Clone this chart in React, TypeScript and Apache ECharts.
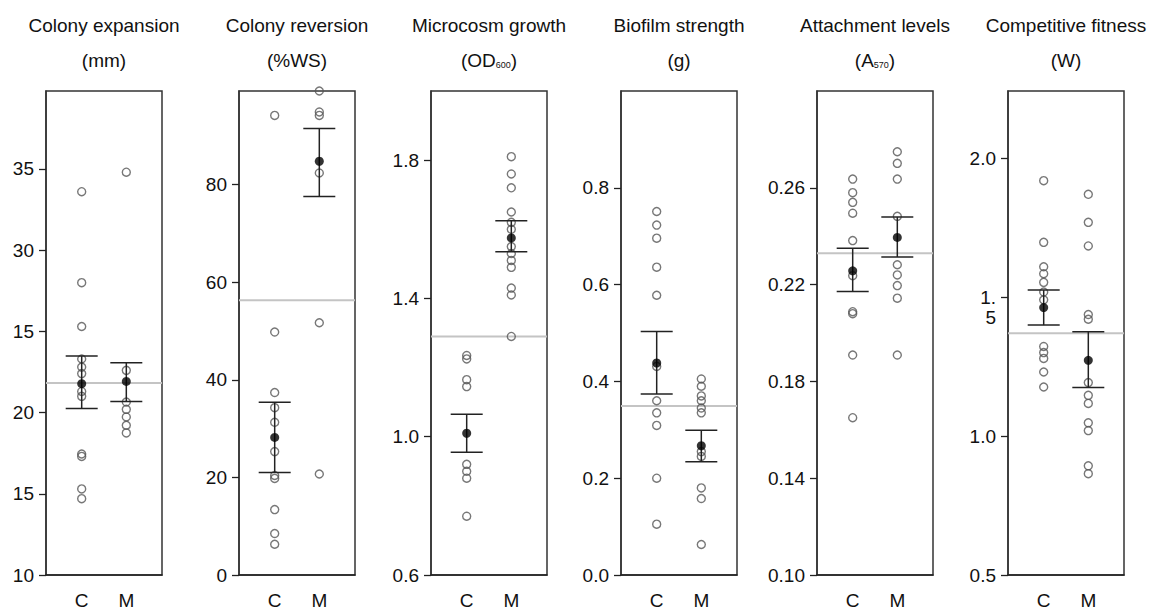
import React, { useEffect, useRef } from "react";
import * as echarts from "echarts";

const FONT = '"Liberation Sans", Arial, sans-serif';
const categories = ["C", "M"];

// Panel 1: Colony expansion (mm)
const expansionC = [33.6, 28.0, 25.3, 23.3, 22.8, 22.4, 21.3, 21.0, 17.45, 17.3, 15.3, 14.7];
const expansionM = [34.8, 22.6, 20.65, 20.2, 19.73, 19.22, 18.75];
const expansionMean = [21.78, 21.92];
const expansionUpper = [23.48, 23.07];
const expansionLower = [20.25, 20.68];
const expansionRef = 21.82;
const expansionTicks = [10, 15, 20, 25, 30, 35];
const expansionTickLabels = ["10", "15", "20", "15", "30", "35"];

// Panel 2: Colony reversion (%WS)
const reversionC = [94.2, 49.8, 37.4, 34.3, 31.3, 25.3, 20.4, 19.8, 13.4, 8.5, 6.3];
const reversionM = [99.2, 94.9, 94.2, 82.4, 51.7, 20.7];
const reversionMean = [28.2, 84.8];
const reversionUpper = [35.4, 91.5];
const reversionLower = [21.0, 77.6];
const reversionRef = 56.3;
const reversionTicks = [0, 20, 40, 60, 80];
const reversionTickLabels = ["0", "20", "40", "60", "80"];

// Panel 3: Microcosm growth (OD600)
const growthC = [1.235, 1.225, 1.165, 1.145, 0.92, 0.9, 0.88, 0.77];
const growthM = [1.81, 1.76, 1.72, 1.65, 1.62, 1.6, 1.55, 1.53, 1.51, 1.49, 1.43, 1.41, 1.29];
const growthMean = [1.01, 1.575];
const growthUpper = [1.065, 1.625];
const growthLower = [0.955, 1.535];
const growthRef = 1.29;
const growthTicks = [0.6, 1.0, 1.4, 1.8];
const growthTickLabels = ["0.6", "1.0", "1.4", "1.8"];

// Panel 4: Biofilm strength (g)
const strengthC = [0.751, 0.723, 0.696, 0.636, 0.578, 0.431, 0.36, 0.335, 0.309, 0.2, 0.105];
const strengthM = [0.405, 0.39, 0.37, 0.36, 0.345, 0.335, 0.255, 0.245, 0.18, 0.158, 0.063];
const strengthMean = [0.438, 0.267];
const strengthUpper = [0.503, 0.299];
const strengthLower = [0.374, 0.234];
const strengthRef = 0.349;
const strengthTicks = [0, 0.2, 0.4, 0.6, 0.8];
const strengthTickLabels = ["0.0", "0.2", "0.4", "0.6", "0.8"];

// Panel 5: Attachment levels (A570)
const attachC = [0.2636, 0.258, 0.254, 0.2495, 0.2382, 0.2237, 0.2088, 0.208, 0.1909, 0.165];
const attachM = [0.2749, 0.2701, 0.2636, 0.2482, 0.2282, 0.224, 0.2196, 0.2144, 0.1909];
const attachMean = [0.2257, 0.2395];
const attachUpper = [0.235, 0.2479];
const attachLower = [0.2172, 0.2314];
const attachRef = 0.233;
const attachTicks = [0.1, 0.14, 0.18, 0.22, 0.26];
const attachTickLabels = ["0.10", "0.14", "0.18", "0.22", "0.26"];

// Panel 6: Competitive fitness (W)
const fitnessC = [1.92, 1.698, 1.61, 1.585, 1.554, 1.519, 1.491, 1.323, 1.301, 1.28, 1.231, 1.177];
const fitnessM = [1.871, 1.77, 1.685, 1.438, 1.421, 1.193, 1.147, 1.118, 1.048, 1.02, 0.893, 0.865];
const fitnessMean = [1.463, 1.273];
const fitnessUpper = [1.526, 1.376];
const fitnessLower = [1.4, 1.175];
const fitnessRef = 1.371;
const fitnessTicks = [0.5, 1.0, 1.5, 2.0];
const fitnessTickLabels = ["0.5", "1.0", " \n1.\n5", "2.0"];

const panels = [
  { t1: "Colony expansion", t2: "(mm)", c: expansionC, m: expansionM, mean: expansionMean, up: expansionUpper, lo: expansionLower, ref: expansionRef, ticks: expansionTicks, labels: expansionTickLabels, min: 10, max: 39.8 },
  { t1: "Colony reversion", t2: "(%WS)", c: reversionC, m: reversionM, mean: reversionMean, up: reversionUpper, lo: reversionLower, ref: reversionRef, ticks: reversionTicks, labels: reversionTickLabels, min: 0, max: 99.2 },
  { t1: "Microcosm growth", t2: "(OD{sub|600})", c: growthC, m: growthM, mean: growthMean, up: growthUpper, lo: growthLower, ref: growthRef, ticks: growthTicks, labels: growthTickLabels, min: 0.6, max: 2.0 },
  { t1: "Biofilm strength", t2: "(g)", c: strengthC, m: strengthM, mean: strengthMean, up: strengthUpper, lo: strengthLower, ref: strengthRef, ticks: strengthTicks, labels: strengthTickLabels, min: 0, max: 1.0 },
  { t1: "Attachment levels", t2: "(A{sub|570})", c: attachC, m: attachM, mean: attachMean, up: attachUpper, lo: attachLower, ref: attachRef, ticks: attachTicks, labels: attachTickLabels, min: 0.1, max: 0.3 },
  { t1: "Competitive fitness", t2: "(W)", c: fitnessC, m: fitnessM, mean: fitnessMean, up: fitnessUpper, lo: fitnessLower, ref: fitnessRef, ticks: fitnessTicks, labels: fitnessTickLabels, min: 0.5, max: 2.243 },
];

const gridLefts = [46, 239, 431, 621, 817, 1008];
const GRID_W = 116;
const GRID_TOP = 91;
const GRID_H = 484;

function buildOption() {
  const grid: any[] = [];
  const xAxis: any[] = [];
  const yAxis: any[] = [];
  const series: any[] = [];
  const graphic: any[] = [];

  panels.forEach((p, i) => {
    const left = gridLefts[i];
    grid.push({
      left, top: GRID_TOP, width: GRID_W, height: GRID_H,
      show: true, borderColor: "#333", borderWidth: 1.5, backgroundColor: "transparent",
    });
    xAxis.push({
      type: "value", gridIndex: i, min: 0.2, max: 2.8,
      axisLine: { show: true, onZero: false, lineStyle: { color: "#222", width: 1.5 } },
      axisTick: { show: false },
      splitLine: { show: false },
      axisLabel: {
        customValues: [1, 2],
        formatter: (v: number) => categories[Math.round(v) - 1] ?? "",
        fontFamily: FONT, fontSize: 19, color: "#111", margin: 16,
      },
    });
    yAxis.push({
      type: "value", gridIndex: i, min: p.min, max: p.max,
      axisLine: { show: true, onZero: false, lineStyle: { color: "#333", width: 1.5 } },
      axisTick: { show: true, customValues: p.ticks, length: 7, lineStyle: { color: "#222", width: 1.3 } },
      splitLine: { show: false },
      axisLabel: {
        customValues: p.ticks,
        formatter: (v: number) => {
          const k = p.ticks.findIndex((t) => Math.abs(t - v) < 1e-9);
          return k >= 0 ? p.labels[k] : "";
        },
        fontFamily: FONT, fontSize: 19, color: "#111", margin: 12, lineHeight: 20,
      },
    });

    series.push({
      type: "line", xAxisIndex: i, yAxisIndex: i, z: 1,
      data: [[0.2, p.ref], [2.8, p.ref]],
      symbol: "none", silent: true,
      lineStyle: { color: "#c4c4c4", width: 2 },
    });
    series.push({
      type: "scatter", xAxisIndex: i, yAxisIndex: i, z: 2,
      data: [...p.c.map((v) => [1, v]), ...p.m.map((v) => [2, v])],
      symbol: "circle", symbolSize: 8,
      itemStyle: { color: "rgba(0,0,0,0)", borderColor: "#555", borderWidth: 1.4 },
    });
    series.push({
      type: "custom", xAxisIndex: i, yAxisIndex: i, z: 3,
      data: [[1, p.lo[0], p.up[0]], [2, p.lo[1], p.up[1]]],
      encode: { x: 0, y: [1, 2] },
      renderItem: (params: any, api: any) => {
        const x = api.value(0);
        const a = api.coord([x, api.value(1)]);
        const b = api.coord([x, api.value(2)]);
        const hw = 16;
        const style = { stroke: "#222", lineWidth: 1.5 };
        return {
          type: "group",
          children: [
            { type: "line", shape: { x1: a[0], y1: a[1], x2: b[0], y2: b[1] }, style },
            { type: "line", shape: { x1: a[0] - hw, y1: a[1], x2: a[0] + hw, y2: a[1] }, style },
            { type: "line", shape: { x1: b[0] - hw, y1: b[1], x2: b[0] + hw, y2: b[1] }, style },
          ],
        };
      },
    });
    series.push({
      type: "scatter", xAxisIndex: i, yAxisIndex: i, z: 4,
      data: [[1, p.mean[0]], [2, p.mean[1]]],
      symbol: "circle", symbolSize: 9,
      itemStyle: { color: "#000" },
    });

    const cx = left + GRID_W / 2;
    graphic.push({
      type: "text", x: cx, y: 25,
      style: { text: p.t1, align: "center", verticalAlign: "middle", font: `19px ${FONT}`, fill: "#111" },
    });
    graphic.push({
      type: "text", x: cx, y: 60,
      style: {
        text: p.t2, align: "center", verticalAlign: "middle", font: `19px ${FONT}`, fill: "#111",
        rich: { sub: { fontSize: 9, fontFamily: FONT, verticalAlign: "bottom", lineHeight: 9, fill: "#111" } },
      },
    });
  });

  return { animation: false, backgroundColor: "#fff", grid, xAxis, yAxis, series, graphic };
}

export default function App() {
  const ref = useRef<HTMLDivElement>(null);
  useEffect(() => {
    if (!ref.current) return;
    const chart = echarts.init(ref.current, undefined, { renderer: "svg" });
    chart.setOption(buildOption() as any);
    return () => chart.dispose();
  }, []);
  return (
    <div
      ref={ref}
      style={{ position: "absolute", left: 0, top: 0, width: 1162, height: 613, background: "#fff" }}
    />
  );
}
